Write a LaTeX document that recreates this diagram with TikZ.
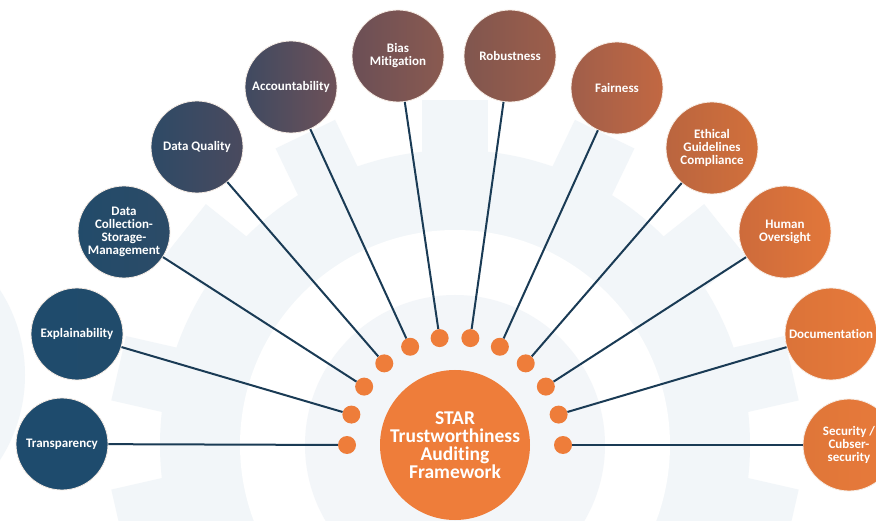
\documentclass[tikz,border=0pt]{standalone}
\usepackage{fontspec}
\setmainfont[Ligatures=NoCommon]{Carlito}
\usetikzlibrary{calc}
\definecolor{navy}{HTML}{1A3B55}
\definecolor{orng}{HTML}{EE7D3A}
\definecolor{gearc}{HTML}{F2F6F9}
\definecolor{diskc}{HTML}{F3F6F9}
\begin{document}
\begin{tikzpicture}[x=1pt,y=-1pt,
  topic/.style={circle, minimum size=92pt, inner sep=0pt, align=center,
    text=white, font=\bfseries\fontsize{13}{13}\selectfont,
    draw={rgb,255:red,246;green,236;blue,228}, line width=0.8pt},
  hub/.style={circle, fill=orng, minimum size=150pt, inner sep=0pt, align=center,
    text=white, font=\bfseries\fontsize{19.5}{18}\selectfont},
  dot/.style={circle, fill=orng, minimum size=18pt, inner sep=0pt},
  link/.style={draw=navy, line width=2pt}]
\useasboundingbox (0,0) rectangle (876,521);
\fill[white] (0,0) rectangle (876,521);
% faint background gear
\fill[gearc] (-132,375) circle (157pt);
\begin{scope}[shift={(455,445)}]
  \foreach \k in {0,...,13}
    \fill[gearc, rotate=\k*360/14+90] (0,-33) rectangle (345,33);
  \fill[gearc] (0,0) circle (295pt);
  \fill[white] (0,0) circle (215pt);
  \fill[diskc] (0,0) circle (150pt);
\end{scope}
% dots around the hub
\foreach \i [evaluate=\i as \a using 180-\i*180/11] in {0,...,11}
  \node[dot] (d\i) at ([shift={(-\a:108)}]455,445) {};
% topics
\node[topic, left color={rgb,255:red,30;green,75;blue,109}, right color={rgb,255:red,30;green,75;blue,109}] (o0) at (62,444) {Transparency};
\node[topic, left color={rgb,255:red,31;green,75;blue,108}, right color={rgb,255:red,32;green,75;blue,107}] (o1) at (77,334) {Explainability};
\node[topic, left color={rgb,255:red,34;green,75;blue,106}, right color={rgb,255:red,44;green,75;blue,103}] (o2) at (124,232) {Data\\Collection-\\Storage-\\Management};
\node[topic, left color={rgb,255:red,46;green,74;blue,102}, right color={rgb,255:red,74;green,74;blue,94}] (o3) at (197,147) {Data Quality};
\node[topic, left color={rgb,255:red,63;green,74;blue,97}, right color={rgb,255:red,110;green,81;blue,88}] (o4) at (291,87) {Accountability};
\node[topic, left color={rgb,255:red,107;green,79;blue,86}, right color={rgb,255:red,138;green,90;blue,80}] (o5) at (398,56) {Bias\\Mitigation};
\node[topic, left color={rgb,255:red,128;green,86;blue,79}, right color={rgb,255:red,158;green,94;blue,74}] (o6) at (510,56) {Robustness};
\node[topic, left color={rgb,255:red,160;green,94;blue,74}, right color={rgb,255:red,194;green,104;blue,66}] (o7) at (617,88) {Fairness};
\node[topic, left color={rgb,255:red,186;green,101;blue,63}, right color={rgb,255:red,210;green,112;blue,59}] (o8) at (712,148) {Ethical\\Guidelines\\Compliance};
\node[topic, left color={rgb,255:red,205;green,107;blue,59}, right color={rgb,255:red,226;green,119;blue,58}] (o9) at (785,232) {Human\\Oversight};
\node[topic, left color={rgb,255:red,219;green,115;blue,57}, right color={rgb,255:red,231;green,122;blue,58}] (o10) at (831,334) {Documentation};
\node[topic, left color={rgb,255:red,223;green,118;blue,57}, right color={rgb,255:red,232;green,122;blue,58}] (o11) at (849,445) {Security /\\Cubser-\\security};
% connectors
\foreach \i in {0,...,11}
  \draw[link] (o\i) -- (d\i);
% hub
\node[hub] (hub) at (455,445) {STAR\\Trustworthiness\\Auditing\\Framework};
\end{tikzpicture}
\end{document}
